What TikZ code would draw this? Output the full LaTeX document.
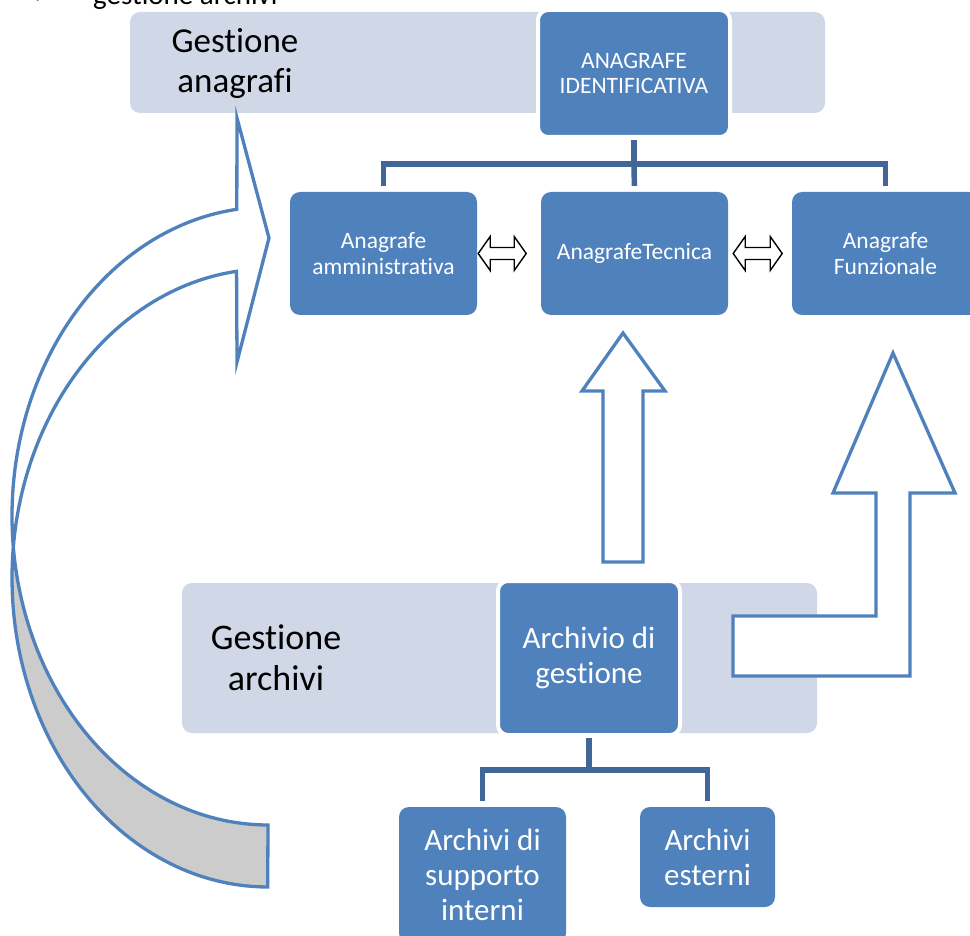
\documentclass[tikz,border=0pt]{standalone}
\usepackage{fontspec}
\setmainfont{Carlito}[Ligatures={NoCommon,NoContextual}]
\newfontfamily\symfont{DejaVu Sans}
\usetikzlibrary{calc}

\definecolor{boxblue}{HTML}{4F81BD}
\definecolor{paneblue}{HTML}{D0D8E8}
\definecolor{linkblue}{HTML}{41679A}
\definecolor{backgray}{HTML}{CCCCCC}

\tikzset{
  pane/.style={fill=paneblue, rounded corners=10pt, inner sep=0pt},
  panetext/.style={align=center, inner sep=0pt, font=\fontsize{35}{40}\selectfont},
  unit/.style={fill=boxblue, text=white, rounded corners=10pt, inner sep=0pt,
    align=center, font=\fontsize{23.5}{25.5}\selectfont},
  bigunit/.style={unit, font=\fontsize{31}{35}\selectfont},
  halo/.style={draw=white, line width=4pt},
  link/.style={draw=linkblue, line width=5.5pt},
  flow/.style={draw=boxblue, line width=3.3pt, fill=white, line join=miter},
  swap/.style={draw=black, line width=1.4pt, fill=white},
}

\begin{document}
\begin{tikzpicture}[x=1pt, y=-1pt]
\useasboundingbox (0,0) rectangle (970,936);
\clip (0,0) rectangle (970,936);

% heading line
\node[anchor=base west, inner sep=0pt, font=\symfont\fontsize{22}{26}\selectfont] (bullet) at (34,4) {➢};
\node[anchor=base west, inner sep=0pt, font=\fontsize{29}{34}\selectfont] (heading) at (93,5) {gestione archivi};

% background panes
\node[pane, minimum width=695pt, minimum height=101pt] (paneA) at (477.5,62.5) {};
\node[panetext] (paneAtext) at (235,63) {Gestione\\anagrafi};
\node[pane, minimum width=635pt, minimum height=150pt] (paneB) at (499.5,658) {};
\node[panetext, font=\fontsize{36}{41}\selectfont] (paneBtext) at (276,658) {Gestione\\archivi};

% curved arrow: back face (grey) and front face with head
\draw[flow, fill=backgray]
  plot[domain=0:1, samples=60] ({268+256*cos(185.76-95.76*\x)},{578+309*sin(185.76-95.76*\x)})
  -- plot[domain=0:1, samples=60] ({268+256*cos(90+84.24*\x)},{516+309*sin(90+84.24*\x)})
  -- cycle;
\draw[flow]
  plot[domain=0:1, samples=80] ({268+256*cos(263-88.76*\x)},{516+309*sin(263-88.76*\x)})
  -- plot[domain=0:1, samples=80] ({268+256*cos(185.76+77.24*\x)},{578+309*sin(185.76+77.24*\x)})
  -- (237,362) -- (269,238) -- (237,118) -- cycle;

% straight up arrow
\draw[flow] (603,562) -- (603,391) -- (582,391) -- (623,333) -- (665,391)
  -- (643,391) -- (643,562) -- cycle;

% bent up arrow
\draw[flow] (733,616) -- (876,616) -- (876,493) -- (833,493) -- (893,353)
  -- (955,493) -- (910,493) -- (910,676) -- (733,676) -- cycle;

% registry boxes
\node[unit, halo, minimum width=192pt, minimum height=127pt] (ident) at (634,73.5) {ANAGRAFE\\IDENTIFICATIVA};
\node[unit, minimum width=187pt, minimum height=123pt] (amm) at (383.5,253.5) {Anagrafe\\amministrativa};
\node[unit, minimum width=187pt, minimum height=123pt] (tec) at (634.5,253.5) {AnagrafeTecnica};
\node[unit, minimum width=187pt, minimum height=123pt] (funz) at (885.5,253.5) {Anagrafe\\Funzionale};

% archive boxes
\node[bigunit, halo, minimum width=182pt, minimum height=154pt] (gest) at (589,658) {Archivio di\\gestione};
\node[bigunit, minimum width=167pt, minimum height=136pt] (supp) at (482.5,875) {Archivi di\\supporto\\interni};
\node[bigunit, minimum width=135pt, minimum height=100pt] (est) at (707.5,857) {Archivi\\esterni};

% tree connectors
\coordinate (busA) at (634,164);
\draw[link, shorten <=1pt] (ident.south) -- (busA);
\draw[link, shorten >=6pt] (busA) -| (amm.north);
\draw[link, shorten >=6pt] (busA) -| (funz.north);
\draw[link, shorten >=6pt] (busA) -- (tec.north);

\coordinate (busB) at (589,770);
\draw[link, shorten <=1pt] (gest.south) -- (busB);
\draw[link, shorten >=6pt] (busB) -| (supp.north);
\draw[link, shorten >=6pt] (busB) -| (est.north);

% two-way arrows between registries
\draw[swap] ($(amm.east)+(1,0)$) -- ++(12,-17) -- ++(0,11) -- ++(24,0) -- ++(0,-11)
  -- ++(12,17) -- ++(-12,17) -- ++(0,-11) -- ++(-24,0) -- ++(0,11) -- cycle;
\draw[swap] ($(tec.east)+(5,0)$) -- ++(12,-17) -- ++(0,11) -- ++(25,0) -- ++(0,-11)
  -- ++(12,17) -- ++(-12,17) -- ++(0,-11) -- ++(-25,0) -- ++(0,11) -- cycle;
\end{tikzpicture}
\end{document}
